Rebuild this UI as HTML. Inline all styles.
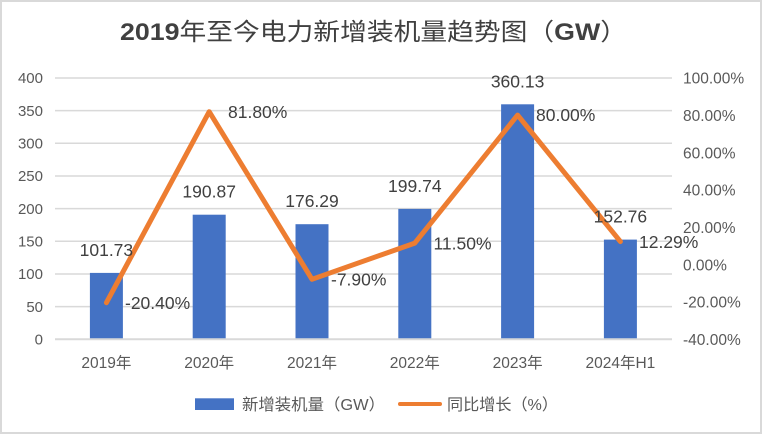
<!DOCTYPE html>
<html>
<head>
<meta charset="utf-8">
<style>
html,body{margin:0;padding:0;background:#fff;}
svg{display:block;}
text{font-family:"Liberation Sans","Noto Sans CJK SC",sans-serif;}
</style>
</head>
<body>
<svg width="762" height="434" viewBox="0 0 762 434" xmlns="http://www.w3.org/2000/svg">
<rect x="0" y="0" width="762" height="434" fill="#fff"/>
<rect x="1" y="1" width="760" height="432" fill="none" stroke="#d9d9d9" stroke-width="2"/>

<!-- title -->
<text x="120" y="40" font-size="24" font-weight="bold" fill="#404040" textLength="507" lengthAdjust="spacingAndGlyphs">2019<tspan font-weight="normal">年至今电力新增装机量趋势图（</tspan>GW<tspan font-weight="normal">）</tspan></text>

<!-- gridlines -->
<g stroke="#d9d9d9" stroke-width="1.5">
<line x1="55" y1="306.6" x2="672" y2="306.6"/>
<line x1="55" y1="274.0" x2="672" y2="274.0"/>
<line x1="55" y1="241.3" x2="672" y2="241.3"/>
<line x1="55" y1="208.6" x2="672" y2="208.6"/>
<line x1="55" y1="176.0" x2="672" y2="176.0"/>
<line x1="55" y1="143.3" x2="672" y2="143.3"/>
<line x1="55" y1="110.6" x2="672" y2="110.6"/>
<line x1="55" y1="78.0" x2="672" y2="78.0"/>
</g>

<!-- bars -->
<g fill="#4472C4">
<rect x="89.9" y="272.9" width="33" height="66.4"/>
<rect x="192.7" y="214.7" width="33" height="124.6"/>
<rect x="295.5" y="224.2" width="33" height="115.1"/>
<rect x="398.3" y="208.9" width="33" height="130.4"/>
<rect x="501.1" y="104.3" width="33" height="235"/>
<rect x="603.9" y="239.6" width="33" height="99.7"/>
</g>
<line x1="55" y1="339.3" x2="672" y2="339.3" stroke="#d9d9d9" stroke-width="2"/>

<!-- line -->
<polyline points="106.4,302.7 209.2,111.7 312,279.3 414.8,243.1 517.6,115.1 620.4,241.6" fill="none" stroke="#ED7D31" stroke-width="5" stroke-linejoin="round" stroke-linecap="round"/>

<!-- left axis labels -->
<g font-size="15" fill="#595959" text-anchor="end">
<text x="43" y="344.5">0</text>
<text x="43" y="311.8">50</text>
<text x="43" y="279.2">100</text>
<text x="43" y="246.5">150</text>
<text x="43" y="213.8">200</text>
<text x="43" y="181.2">250</text>
<text x="43" y="148.5">300</text>
<text x="43" y="115.8">350</text>
<text x="43" y="83.2">400</text>
</g>

<!-- right axis labels -->
<g font-size="15.5" fill="#595959">
<text x="683" y="345">-40.00%</text>
<text x="683" y="307.7">-20.00%</text>
<text x="683" y="270.4">0.00%</text>
<text x="683" y="233.0">20.00%</text>
<text x="683" y="195.7">40.00%</text>
<text x="683" y="158.4">60.00%</text>
<text x="683" y="121.0">80.00%</text>
<text x="683" y="83.5">100.00%</text>
</g>

<!-- category labels -->
<g font-size="15.5" fill="#595959" text-anchor="middle">
<text x="106.4" y="368">2019年</text>
<text x="209.2" y="368">2020年</text>
<text x="312" y="368">2021年</text>
<text x="414.8" y="368">2022年</text>
<text x="517.6" y="368">2023年</text>
<text x="620.4" y="368">2024年H1</text>
</g>

<!-- bar data labels -->
<g font-size="17.5" fill="#404040" text-anchor="middle">
<text x="106.4" y="256">101.73</text>
<text x="209.2" y="197.7">190.87</text>
<text x="312" y="207.2">176.29</text>
<text x="414.8" y="191.9">199.74</text>
<text x="517.6" y="87.3">360.13</text>
<text x="620.4" y="222.6">152.76</text>
</g>

<!-- line data labels -->
<g font-size="17.5" fill="#404040">
<text x="125" y="309">-20.40%</text>
<text x="228" y="118">81.80%</text>
<text x="331" y="285.5">-7.90%</text>
<text x="433.5" y="249.3">11.50%</text>
<text x="536" y="121">80.00%</text>
<text x="639" y="247.8">12.29%</text>
</g>

<!-- legend -->
<rect x="195" y="398.3" width="39" height="11.7" fill="#4472C4"/>
<text x="242" y="410" font-size="16" fill="#595959" textLength="143" lengthAdjust="spacingAndGlyphs">新增装机量（GW）</text>
<line x1="400" y1="404" x2="440" y2="404" stroke="#ED7D31" stroke-width="4" stroke-linecap="round"/>
<text x="447" y="410" font-size="16" fill="#595959" textLength="111" lengthAdjust="spacingAndGlyphs">同比增长（%）</text>
</svg>
</body>
</html>
